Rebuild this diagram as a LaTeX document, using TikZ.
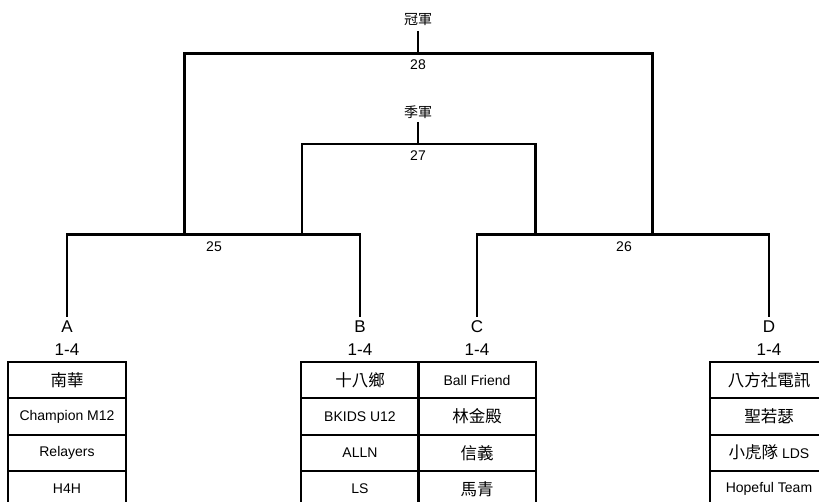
\documentclass[tikz,border=0pt]{standalone}
\usepackage{fontspec}
\setmainfont{Liberation Sans}
\newfontfamily\cjk{Noto Sans CJK TC}
\newcommand\zh[1]{{\cjk\fontsize{16.5}{18}\selectfont #1}}
\tikzset{
  bracket/.style={line width=2.4pt},
  grp/.style={font=\fontsize{17}{20}\selectfont},
  num/.style={font=\fontsize{14}{16}\selectfont},
  title/.style={font=\cjk\fontsize{14}{16}\selectfont},
  team/.style={draw,line width=2pt,minimum width=117.5pt,minimum height=36.3pt,inner sep=0pt,font=\fontsize{14}{16}\selectfont}
}
\begin{document}
\begin{tikzpicture}[x=1pt,y=-1pt]
  \useasboundingbox[fill=white] (0,0) rectangle (819,502);

  % final and third place
  \node[title] (champ) at (418,20) {冠軍};
  \node[title] (third) at (418,112) {季軍};
  \coordinate (t28) at (418,31);
  \coordinate (c28) at (418,53.5);
  \coordinate (t27) at (418,122);
  \coordinate (c27) at (418,144.3);
  \node[num] (n28) at (418,65) {28};
  \node[num] (n27) at (418,156) {27};

  \coordinate (l28) at (184.7,234.5);
  \coordinate (r28) at (652.7,234.5);
  \coordinate (l27) at (301.7,234.5);
  \coordinate (r27) at (535.5,234.5);
  \draw[bracket,line width=2.8pt] (l28) |- (c28) -| (r28);
  \draw[bracket] (t28) -- (c28);
  \draw[bracket] (l27) |- (c27) -| (r27);
  \draw[bracket] (t27) -- (c27);

  % groups
  \foreach \g/\gx/\teams in {A/67/{\zh{南華},Champion M12,Relayers,H4H},
      B/360/{\zh{十八鄉},BKIDS U12,ALLN,LS},
      C/477/{Ball Friend,\zh{林金殿},\zh{信義},\zh{馬青}},
      D/769/{\zh{八方社電訊},\zh{聖若瑟},\zh{小虎隊} LDS,Hopeful Team}} {
    \node[grp] (g\g) at (\gx,327) {\g};
    \node[grp] (s\g) at (\gx,350) {1-4};
    \coordinate (e\g) at (\gx,317);
    \foreach[count=\i,evaluate={343.85+\i*36.3} as \y] \v in \teams {
      \node[team] (t\g\i) at (\gx,\y) {\v};
    }
  }

  % first round
  \coordinate (m25) at (214,234.5);
  \coordinate (m26) at (624,234.5);
  \draw[bracket] (eA) |- (m25) -| (eB);
  \draw[bracket] (eC) |- (m26) -| (eD);
  \node[num] (n25) at (214,247) {25};
  \node[num] (n26) at (624,247) {26};
\end{tikzpicture}
\end{document}
